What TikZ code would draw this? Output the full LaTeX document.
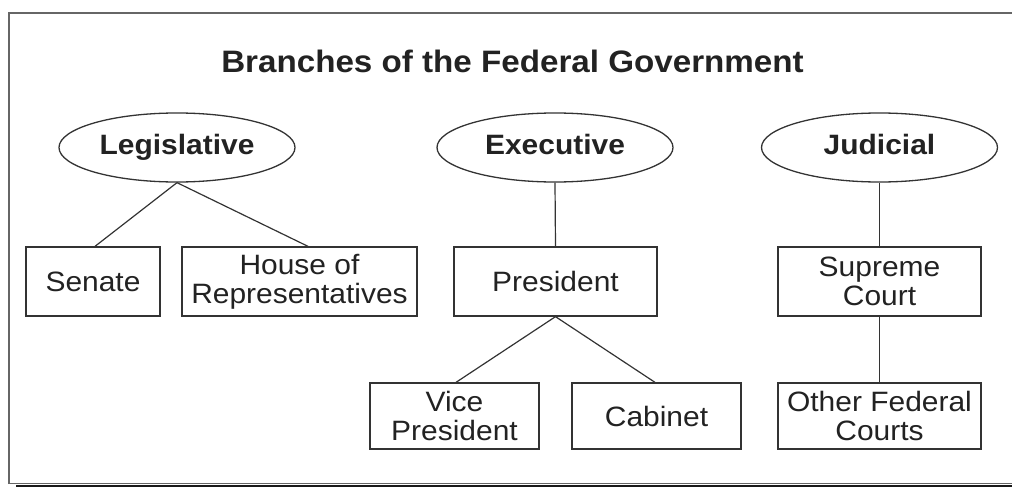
\documentclass[tikz,border=0pt]{standalone}
\usepackage{fontspec}
\setmainfont{Liberation Sans}[FakeStretch=1.07]
\usetikzlibrary{shapes.geometric}
\definecolor{ink}{HTML}{333333}
\definecolor{txt}{HTML}{222222}
\tikzset{
  branch/.style={draw=ink, line width=1.3pt, ellipse, minimum width=236pt, minimum height=69pt, inner sep=0pt, text height=20pt, text depth=6pt, font=\fontsize{28}{29}\selectfont\bfseries, text=txt},
  unit/.style={draw=ink, line width=1.3pt, rectangle, inner sep=0pt, align=center, font=\fontsize{28}{29}\selectfont, text=txt},
  link/.style={draw=ink, line width=1.2pt}
}
\begin{document}
\begin{tikzpicture}[x=1pt,y=-1pt]
\useasboundingbox (0,0) rectangle (1012,487);
% frame
\draw[color=gray!80!black, line width=1.6pt] (9,484) -- (9,13) -- (1020,13);
\draw[color=gray!80!black, line width=1pt] (9,483) -- (1020,483);
\fill[black!90] (16,484.5) rectangle (1020,490);
% title
\node[font=\fontsize{31}{33}\selectfont\bfseries, text=txt, anchor=base] (title) at (512.5,73) {Branches of the Federal Government};
% branches
\node[branch] (leg) at (177,147.5) {Legislative};
\node[branch] (exe) at (555,147.5) {Executive};
\node[branch] (jud) at (879.5,147.5) {Judicial};
% boxes
\node[unit, minimum width=134pt, minimum height=69pt] (sen) at (93,281.5) {Senate};
\node[unit, minimum width=235pt, minimum height=69pt] (hou) at (299.5,281.5) {House of\\Representatives};
\node[unit, minimum width=203pt, minimum height=69pt] (pre) at (555.5,281.5) {President};
\node[unit, minimum width=203pt, minimum height=69pt] (sup) at (879.5,281.5) {Supreme\\Court};
\node[unit, minimum width=169pt, minimum height=66pt] (vp) at (454.5,416) {Vice\\President};
\node[unit, minimum width=169pt, minimum height=66pt] (cab) at (656.5,416) {Cabinet};
\node[unit, minimum width=203pt, minimum height=66pt] (oth) at (879.5,416) {Other Federal\\Courts};
% connectors
\draw[link] (leg.south) -- ([xshift=2pt]sen.north);
\draw[link] (leg.south) -- ([xshift=8.5pt]hou.north);
\draw[link] (exe.south) -- (pre.north);
\draw[link] (jud.south) -- (sup.north);
\draw[link] (pre.south) -- ([xshift=1.5pt]vp.north);
\draw[link] (pre.south) -- ([xshift=-1.5pt]cab.north);
\draw[link] (sup.south) -- (oth.north);
\end{tikzpicture}
\end{document}
